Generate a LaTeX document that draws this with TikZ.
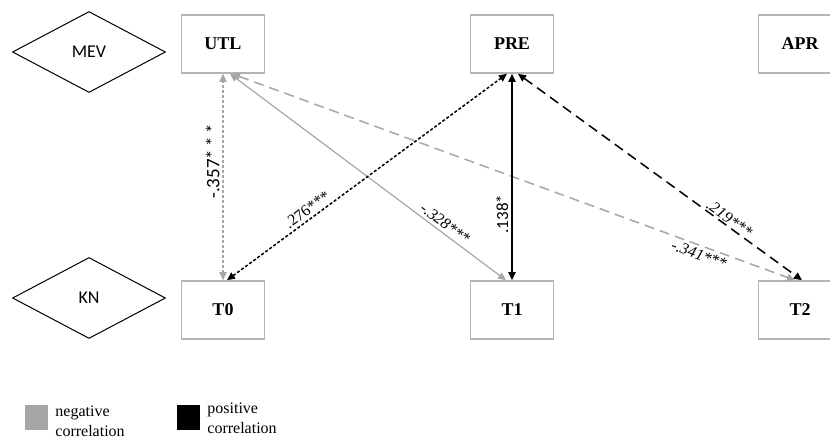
\documentclass[tikz,border=0pt]{standalone}
\usepackage{fontspec}
\setmainfont{Liberation Serif}
\newfontfamily\calibrifont{Carlito}
\usepackage{tikz}
\usetikzlibrary{shapes.geometric,arrows.meta,positioning}
\usepackage{xcolor}
\definecolor{neggray}{HTML}{A6A6A6}
\definecolor{boxgray}{HTML}{B4B4B4}

\begin{document}
\begin{tikzpicture}[x=0.5pt, y=-0.5pt, >={Triangle[length=4pt, width=3.6pt]},
  var/.style={draw=boxgray, line width=0.8pt, minimum width=41.5pt, minimum height=29pt, inner sep=0pt, font=\bfseries\fontsize{9}{10}\selectfont},
  dim/.style={draw, diamond, line width=0.5pt, minimum width=76.5pt, minimum height=40.5pt, inner sep=0pt, font=\calibrifont\fontsize{9}{10}\selectfont},
  coef/.style={font=\fontsize{8}{9}\selectfont, inner sep=1.5pt},
  coefsans/.style={font=\calibrifont\fontsize{8.5}{9}\selectfont, inner sep=1.5pt},
  negcor/.style={<->, draw=neggray, line width=0.6pt},
  poscor/.style={<->, draw=black, line width=0.75pt},
  fine/.style={dash pattern=on 1.5pt off 1pt},
  longdash/.style={dash pattern=on 5pt off 3pt},
  swatch/.style={minimum width=11.5pt, minimum height=12.5pt, inner sep=0pt},
  legtext/.style={align=left, inner sep=0pt, font=\fontsize{8}{10}\selectfont}]
  \useasboundingbox (0,0) rectangle (830,440);

  % Row 1: MEV
  \node[dim] (mev) at (89,52) {MEV};
  \node[var] (utl) at (223,44) {UTL};
  \node[var] (pre) at (512,44) {PRE};
  \node[var] (apr) at (800,44) {APR};

  % Row 2: KN
  \node[dim] (kn) at (89,298) {KN};
  \node[var] (t0) at (223,310) {T0};
  \node[var] (t1) at (512,310) {T1};
  \node[var] (t2) at (800,310) {T2};

  % negative correlations (gray)
  \draw[negcor, fine] (t0.north) -- node[coefsans, sloped, above, pos=0.575, font=\calibrifont\fontsize{9.5}{10}\selectfont] {-.357*\,*\,*} (utl.south);
  \draw[negcor] ([xshift=3.5pt]utl.south) -- node[coef, sloped, above, pos=0.76] {\itshape -.328***} ([xshift=-3pt]t1.north);
  \draw[negcor, line width=0.75pt, longdash] ([xshift=4.5pt]utl.south) -- node[coef, sloped, below, pos=0.835] {\itshape -.341***} ([xshift=-2.5pt]t2.north);

  % positive correlations (black)
  \draw[poscor, fine] ([xshift=2pt]t0.north) -- node[coef, sloped, above, pos=0.306] {.276***} ([xshift=-2.5pt]pre.south);
  \draw[poscor] (t1.north) -- node[coefsans, sloped, above, pos=0.32] {.138*} (pre.south);
  \draw[poscor, longdash] ([xshift=3pt]pre.south) -- node[coef, sloped, above, pos=0.73, inner sep=0.5pt] {\itshape .219***} ([xshift=1pt]t2.north);

  % Legend
  \node[swatch, fill=neggray] (negbox) at (36.5,417.5) {};
  \node[legtext, anchor=west] (negtext) at (55,421) {negative\\correlation};
  \node[swatch, fill=black] (posbox) at (188,417.5) {};
  \node[legtext, anchor=west] (postext) at (207,418) {positive\\correlation};
\end{tikzpicture}
\end{document}
